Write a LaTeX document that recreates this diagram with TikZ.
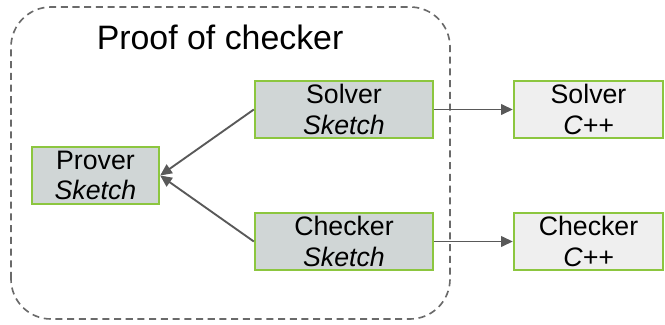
\documentclass[tikz,border=0pt]{standalone}
\usepackage{fontspec}
\setmainfont{Liberation Sans}
\definecolor{boxgreen}{HTML}{8CC63F}
\definecolor{sketchgray}{HTML}{D0D6D6}
\definecolor{cppgray}{HTML}{EFEFEF}
\definecolor{arrowgray}{HTML}{595959}
\usepackage{tikz}
\usetikzlibrary{arrows.meta, positioning}

\begin{document}
\begin{tikzpicture}[
      sketch/.style={draw=boxgreen, line width=2pt, fill=sketchgray,
                     minimum height=1.71cm, inner sep=0pt,
                     font=\fontsize{22.8}{26}\selectfont, align=center},
      cpp/.style={sketch, fill=cppgray},
      arr/.style={-{Triangle[length=10pt, width=9pt]}, line width=1.6pt, arrowgray}
    ]
      \useasboundingbox (0,0) rectangle (19.95,9.72);

      % dashed region around the sketch side
      \draw[arrowgray!90, line width=1.4pt, dash pattern=on 6pt off 4pt,
            rounded corners=1.2cm] (0.33,0.15) rectangle (13.5,9.51);
      \node[font=\fontsize{28.9}{34}\selectfont, anchor=base west] (title)
        at (2.78,8.22) {Proof of checker};

      \node[sketch, minimum width=3.81cm] (prover) at (2.865,4.455)
        {Prover\\\textit{Sketch}};
      \node[sketch, minimum width=5.34cm] (solver) at (10.32,6.435)
        {Solver\\\textit{Sketch}};
      \node[sketch, minimum width=5.34cm] (checker) at (10.32,2.475)
        {Checker\\\textit{Sketch}};

      \node[cpp, minimum width=4.47cm] (solvercpp) at (17.655,6.435)
        {Solver\\\textit{C++}};
      \node[cpp, minimum width=4.47cm] (checkercpp) at (17.655,2.475)
        {Checker\\\textit{C++}};

      \draw[arr] (solver.west) -- (prover.east);
      \draw[arr] (checker.west) -- (prover.east);
      \draw[arr] (solver) -- (solvercpp);
      \draw[arr] (checker) -- (checkercpp);
    \end{tikzpicture}
\end{document}
